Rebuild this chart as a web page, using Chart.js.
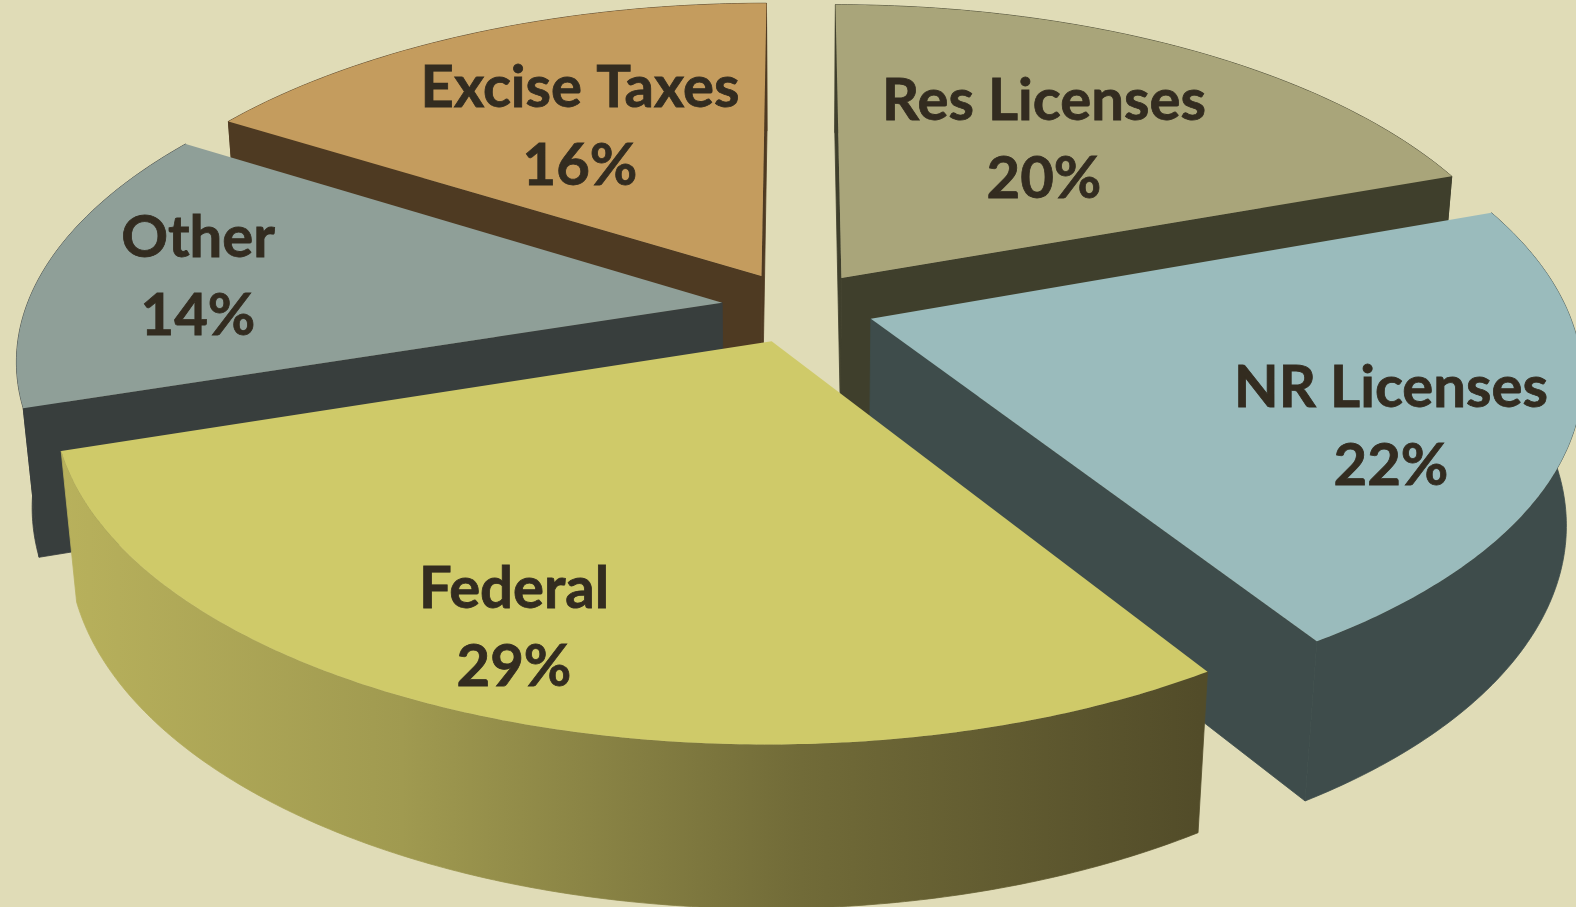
<!DOCTYPE html>
<html>
<head>
<meta charset="utf-8">
<title>Revenue sources</title>
<style>
  html, body { margin: 0; padding: 0; background: #e0dcb7; overflow: hidden; }
  #wrap { position: relative; width: 1576px; height: 907px; }
</style>
<script src="https://cdn.jsdelivr.net/npm/chart.js@4"></script>
</head>
<body>
<div id="wrap"><canvas id="myChart"></canvas></div>
<script>
// printed labels are rounded (they add up to 101), so these are the unrounded reads
const categories = ["Res Licenses", "NR Licenses", "Federal", "Other", "Excise Taxes"];
const shares = [19.5, 21.5, 29.0, 13.9, 16.1];

const topColors = ["#a9a57a", "#9abbbc", "#cfca69", "#8f9f98", "#c49c5e"];
const wallColors = ["#3f3f2c", "#3e4c4b", null, "#383e3d", "#4e3a22"];

// where each label sits on the page (x centre, first baseline)
const labelSpots = [[1044, 120], [1391, 407], [514, 608], [198, 257], [580, 107]];

// camera used to tip the flat pie over
const view = { cx: 798, cy: 307, rx: 696, ry: 326, depth: 147, tilt: 0.161, sink: 0.02, explode: 0.11 };

function project(x, y, z) {
  const w = 1 - view.tilt * y + view.sink * z;
  return [view.cx + view.rx * x / w, view.cy + (view.ry * y + view.depth * z) / w];
}

function fillShape(ctx, pts, color, seal) {
  ctx.beginPath();
  pts.forEach((p, i) => (i ? ctx.lineTo(p[0], p[1]) : ctx.moveTo(p[0], p[1])));
  ctx.closePath();
  ctx.fillStyle = color;
  ctx.fill();
  if (seal) {
    // hides the hairline where two wall pieces meet
    ctx.strokeStyle = color;
    ctx.lineWidth = 0.8;
    ctx.stroke();
  }
}

function shapeArea(pts) {
  let a = 0;
  pts.forEach((p, i) => {
    const q = pts[(i + 1) % pts.length];
    a += p[0] * q[1] - q[0] * p[1];
  });
  return a;
}

function drawSlice(chart, arc, index) {
  const ctx = chart.ctx;
  const mid = (arc.startAngle + arc.endAngle) / 2;
  const ox = Math.cos(mid) * view.explode;
  const oy = Math.sin(mid) * view.explode;

  const rim = [];
  const steps = Math.ceil((arc.endAngle - arc.startAngle) / 0.01);
  for (let i = 0; i <= steps; i++) {
    const a = arc.startAngle + (arc.endAngle - arc.startAngle) * i / steps;
    rim.push([ox + Math.cos(a), oy + Math.sin(a)]);
  }
  const up = rim.map((p) => project(p[0], p[1], 0));
  const down = rim.map((p) => project(p[0], p[1], 1));
  const apexUp = project(ox, oy, 0);
  const apexDown = project(ox, oy, 1);

  let wall = wallColors[index];
  if (!wall) {
    wall = ctx.createLinearGradient(60, 0, 1200, 0);
    wall.addColorStop(0, "#b8b15c");
    wall.addColorStop(0.3, "#a09a50");
    wall.addColorStop(0.65, "#716b38");
    wall.addColorStop(1, "#524c29");
  }

  // outer skin first, then the two cut faces if they look at the camera
  fillShape(ctx, up.concat(down.slice().reverse()), wall, true);
  const first = [apexUp, up[0], down[0], apexDown];
  const last = [apexUp, apexDown, down[steps], up[steps]];
  if (shapeArea(first) < 0) fillShape(ctx, first, wall, true);
  if (shapeArea(last) < 0) fillShape(ctx, last, wall, true);

  fillShape(ctx, [apexUp].concat(up), topColors[index]);
}

const tiltedPie = {
  id: "tiltedPie",
  beforeDatasetDraw(chart) {
    // back slices first so the front ones cover them
    const arcs = chart.getDatasetMeta(0).data.map((arc, i) => ({ arc, i }));
    arcs.sort((a, b) => Math.sin((a.arc.startAngle + a.arc.endAngle) / 2) - Math.sin((b.arc.startAngle + b.arc.endAngle) / 2));
    arcs.forEach((o) => drawSlice(chart, o.arc, o.i));
    return false;
  },
  afterDatasetsDraw(chart) {
    const ctx = chart.ctx;
    ctx.save();
    ctx.font = "bold 58px Lato, Carlito, sans-serif";
    ctx.fillStyle = "#332c20";
    ctx.strokeStyle = "#332c20";
    ctx.lineWidth = 0.8;
    ctx.textAlign = "center";
    ctx.textBaseline = "alphabetic";
    categories.forEach((name, i) => {
      const x = labelSpots[i][0], y = labelSpots[i][1];
      const pct = Math.round(shares[i]) + "%";
      ctx.fillText(name, x, y);
      ctx.strokeText(name, x, y);
      ctx.fillText(pct, x, y + 78);
      ctx.strokeText(pct, x, y + 78);
    });
    ctx.restore();
  },
};

var myChart = new Chart(document.getElementById("myChart").getContext("2d"), {
  type: "pie",
  data: {
    labels: categories,
    datasets: [{ data: shares, backgroundColor: topColors }],
  },
  options: {
    responsive: true,
    maintainAspectRatio: false,
    animation: false,
    rotation: 0,
    plugins: { legend: { display: false }, tooltip: { enabled: false } },
  },
  plugins: [tiltedPie],
});
</script>
</body>
</html>
